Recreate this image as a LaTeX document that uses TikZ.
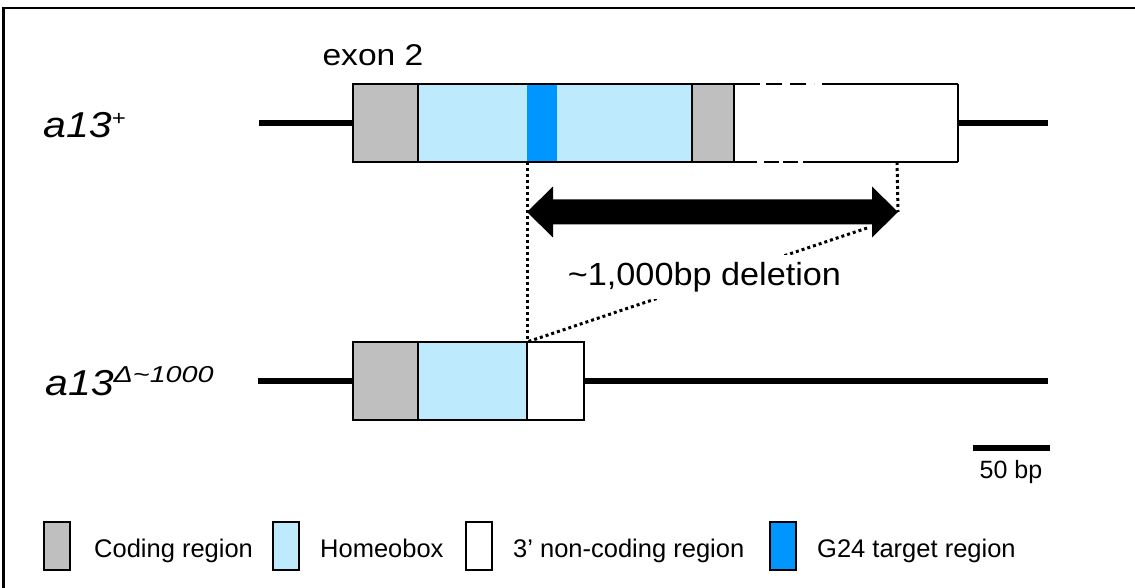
\documentclass[tikz,border=0pt]{standalone}
\usepackage{fontspec}
\setmainfont{Liberation Sans}
\newfontfamily\exonfam[FakeStretch=1.12]{Liberation Sans}
\newfontfamily\rowfam[FakeStretch=1.14]{Liberation Sans}
\newfontfamily\supfam[FakeStretch=1.25]{Liberation Sans}
\newfontfamily\delfam[FakeStretch=1.07]{Liberation Sans}
\usetikzlibrary{calc}

\definecolor{codegray}{RGB}{191,191,191}
\definecolor{homeoblue}{RGB}{189,234,252}
\definecolor{targetblue}{RGB}{0,150,255}

\newcommand\exonfont{\exonfam\fontsize{30}{36}\selectfont}
\newcommand\rowfont{\rowfam\itshape\fontsize{36}{42}\selectfont}
\newcommand\supfont{\supfam\itshape\fontsize{23}{23}\selectfont}
\newcommand\delfont{\delfam\fontsize{32}{38}\selectfont}
\newcommand\legfont{\fontsize{25.5}{30}\selectfont}
\newcommand\barfont{\fontsize{25}{30}\selectfont}

\begin{document}
\begin{tikzpicture}[x=1pt,y=-1pt,
  seg/.style={draw=black, line width=2pt, inner sep=0pt, outer sep=0pt,
              minimum height=78pt, anchor=north west},
  coding/.style={seg, fill=codegray},
  homeo/.style={seg, fill=homeoblue},
  target/.style={seg, draw=none, fill=targetblue},
  noncoding/.style={seg, fill=white},
  outline/.style={line width=2.5pt},
  backbone/.style={line width=6pt},
  dots/.style={line width=3pt, dash pattern=on 3pt off 3pt},
  legbox/.style={draw=black, line width=2.2pt, inner sep=0pt, outer sep=0pt,
                 minimum width=26pt, minimum height=48pt},
  legtext/.style={anchor=base west, inner sep=0pt, font=\legfont},
]
\useasboundingbox (0,0) rectangle (1135,588);

% frame
\draw[line width=2.5pt] (3.5,588) -- (3.5,8) -- (1135,8);

% ---------- wild-type allele ----------
\coordinate (w1) at (259,123);
\coordinate (e1) at (1048,123);
\node[coding, minimum width=65pt]  (c1) at (353,84) {};
\node[homeo,  minimum width=274pt] (h1) at (418,84) {};
\node[target, minimum width=30pt]  (g1) at (527,84) {};
\node[coding, minimum width=42pt]  (c2) at (692,84) {};
\node[noncoding, draw=none, minimum width=224pt] (n1) at (734,84) {};
\draw[outline] (c1.north west) rectangle (c2.south east);
\draw[outline] (n1.north east) -- (n1.south east);
% broken edges of the 3' region
\coordinate (ta) at (760,84);  \coordinate (tb) at (766,84);
\coordinate (tc) at (814,84);  \coordinate (td) at (822,84);
\draw[outline] (n1.north west) -- (ta);
\draw[outline, dash pattern=on 16pt off 8pt] (tb) -- (tc);
\draw[outline] (td) -- (n1.north east);
\coordinate (ba) at (757,162); \coordinate (bb) at (764,162);
\coordinate (bc) at (798,162); \coordinate (bd) at (803,162);
\draw[outline] (n1.south west) -- (ba);
\draw[outline, dash pattern=on 15pt off 4pt] (bb) -- (bc);
\draw[outline] (bd) -- (n1.south east);
\draw[backbone] (w1) -- (c1.west);
\draw[backbone] (n1.east) -- (e1);

\node[anchor=base, inner sep=0pt, font=\exonfont] (exon) at (373,66) {exon 2};
\node[anchor=base west, inner sep=0pt, font=\rowfont] (lab1) at (43,138)
  {a13\raisebox{12pt}{\fontsize{21}{21}\selectfont +}};

% ---------- deletion allele ----------
\coordinate (w2) at (258,381);
\coordinate (e2) at (1048,381);
\node[coding,    minimum width=65pt]  (c3) at (353,342) {};
\node[homeo,     minimum width=109pt] (h2) at (418,342) {};
\node[noncoding, minimum width=57pt]  (n2) at (527,342) {};
\draw[outline] (c3.north west) rectangle (n2.south east);
\draw[backbone] (w2) -- (c3.west);
\draw[backbone] (n2.east) -- (e2);

\node[anchor=base west, inner sep=0pt, font=\rowfont] (lab2) at (45,395)
  {a13\raisebox{13pt}{\supfont Δ\textasciitilde 1000}};

% ---------- deleted span ----------
\coordinate (rt) at (897,162);
\coordinate (L) at (527,212);
\coordinate (R) at (898,212);
\coordinate (hd) at (867,228);
\draw[dots] (g1.south west) -- (n2.north west);
\draw[dots] (rt) -- (R);
\draw[dots] (hd) -- (n2.north west);

\fill (L) -- ($(L)+(26,-25.5)$) -- ($(L)+(26,-12.5)$) -- ($(R)+(-26,-12.5)$)
  -- ($(R)+(-26,-25.5)$) -- (R) -- ($(R)+(-26,25.5)$) -- ($(R)+(-26,12.5)$)
  -- ($(L)+(26,12.5)$) -- ($(L)+(26,25.5)$) -- cycle;

\node[anchor=base, fill=white, inner sep=7pt, font=\delfont] (del) at (704.5,285)
  {\textasciitilde 1,000bp deletion};

% ---------- scale bar ----------
\coordinate (sb1) at (973,448);
\coordinate (sb2) at (1050,448);
\draw[line width=6pt] (sb1) -- (sb2);
\node[anchor=base, inner sep=0pt, font=\barfont] (sbl) at (1011,478) {50 bp};

% ---------- legend ----------
\node[legbox, fill=codegray]   (k1) at (57,546)  {};
\node[legbox, fill=homeoblue]  (k2) at (286,546) {};
\node[legbox, fill=white]      (k3) at (479,546) {};
\node[legbox, fill=targetblue] (k4) at (783,546) {};
\node[legtext] (t1) at (94,557)  {Coding region};
\node[legtext] (t2) at (320,557) {Homeobox};
\node[legtext] (t3) at (513,557) {3’ non-coding region};
\node[legtext] (t4) at (817,557) {G24 target region};
\end{tikzpicture}
\end{document}
